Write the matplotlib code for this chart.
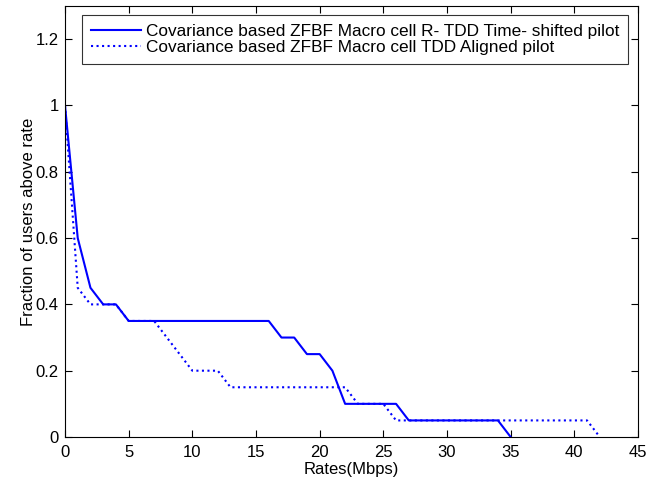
import numpy as np
import matplotlib.pyplot as plt

plt.rcParams['font.family'] = ['Liberation Sans', 'DejaVu Sans']

# rates (Mbps) and fraction of users above rate
rates_shifted = [0, 1, 2, 3, 4, 5, 16, 17, 18, 19, 20, 21, 22, 26, 27, 34, 35]
frac_shifted = [1.0, 0.6, 0.45, 0.4, 0.4, 0.35, 0.35, 0.3, 0.3, 0.25, 0.25,
                0.2, 0.1, 0.1, 0.05, 0.05, 0.0]

rates_aligned = [0, 1, 2, 3, 4, 5, 7, 8, 9, 10, 12, 13, 22, 23, 25, 26, 41, 42]
frac_aligned = [1.0, 0.45, 0.4, 0.4, 0.4, 0.35, 0.35, 0.3, 0.25, 0.2, 0.2,
                0.15, 0.15, 0.1, 0.1, 0.05, 0.05, 0.0]

labels = ['Covariance based ZFBF Macro cell R- TDD Time- shifted pilot',
          'Covariance based ZFBF Macro cell TDD Aligned pilot']

fig = plt.figure(figsize=(6.46, 4.86), dpi=100)
ax = fig.add_axes([65 / 646, 1 - 437 / 486, 573 / 646, 431 / 486])

ax.plot(rates_shifted, frac_shifted, color='#0000ff', linewidth=1.5,
        linestyle='-', label=labels[0])
ax.plot(rates_aligned, frac_aligned, color='#0000ff', linewidth=1.5,
        linestyle=':', label=labels[1])

ax.set_xlim(0, 45)
ax.set_ylim(0, 1.3)
ax.set_xticks(np.arange(0, 46, 5))
ax.set_yticks([0, 0.2, 0.4, 0.6, 0.8, 1, 1.2])
ax.set_yticklabels(['0', '0.2', '0.4', '0.6', '0.8', '1', '1.2'])
ax.tick_params(direction='in', top=True, right=True, length=5, labelsize=12)
ax.tick_params(axis='x', pad=6)
ax.tick_params(axis='y', pad=4.5)
for s in ax.spines.values():
    s.set_linewidth(0.8)

ax.set_xlabel('Rates(Mbps)', fontsize=12, labelpad=1)
ax.set_ylabel('Fraction of users above rate', fontsize=12, labelpad=0)

leg = ax.legend(loc='upper left', bbox_to_anchor=(17 / 573, 1 - 9 / 431),
                fontsize=12.4, frameon=True, fancybox=False, edgecolor='black',
                handlelength=2.9, borderpad=0.5, labelspacing=0.1,
                handletextpad=0.3, borderaxespad=0)
leg.get_frame().set_linewidth(0.8)

plt.savefig('out.png')
